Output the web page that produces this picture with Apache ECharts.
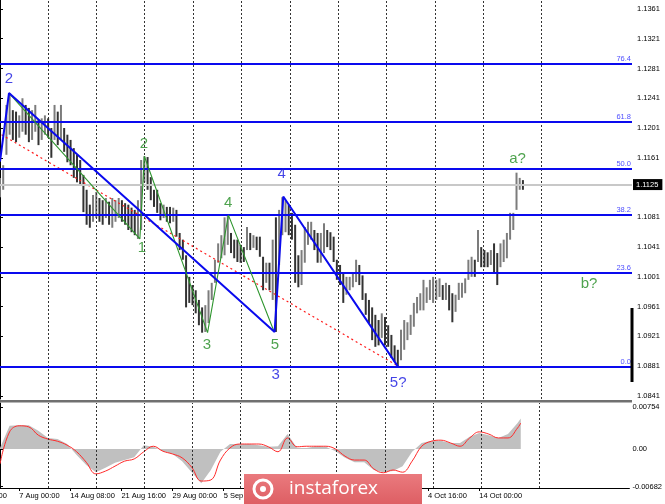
<!DOCTYPE html>
<html><head><meta charset="utf-8">
<script src="https://cdn.jsdelivr.net/npm/echarts@6/dist/echarts.min.js"></script>
<style>html,body{margin:0;padding:0;background:#fff}#c{width:665px;height:504px}</style>
</head><body><div id="c"></div>
<script>
// ---- price bars (8h bars): highs and lows ----
const highs = [1.1134,1.1151,1.1232,1.1248,1.1225,1.1223,1.1218,1.1241,1.1232,1.1228,
1.1225,1.1232,1.1212,1.1214,1.1218,1.1214,1.1201,1.1232,1.1223,1.1232,
1.1201,1.1192,1.1185,1.1174,1.1165,1.1158,1.1138,1.1118,1.1098,1.1111,
1.1115,1.1107,1.1104,1.1107,1.1102,1.1107,1.1104,1.1107,1.1104,1.1100,
1.1098,1.1094,1.1091,1.1104,1.1158,1.1163,1.1162,1.1135,1.1118,1.1118,
1.1100,1.1098,1.1095,1.1095,1.1094,1.1091,1.1060,1.1051,1.1030,1.1001,
1.0990,1.0983,1.0970,1.0960,1.0963,1.0983,1.0993,1.1024,1.1046,1.1057,
1.1081,1.1084,1.1060,1.1051,1.1051,1.1044,1.1041,1.1068,1.1060,1.1057,
1.1055,1.1055,1.1028,1.1020,1.1020,1.1051,1.1081,1.1091,1.1108,1.1104,
1.1098,1.1087,1.1071,1.1030,1.1037,1.1068,1.1075,1.1075,1.1064,1.1060,
1.1060,1.1073,1.1064,1.1061,1.1055,1.1024,1.1017,1.1006,1.1001,1.1001,
1.1006,1.1024,1.1017,1.1003,1.0979,1.0970,1.0960,1.0950,1.0943,1.0952,
1.0947,1.0936,1.0923,1.0909,1.0903,1.0930,1.0943,1.0940,1.0950,1.0966,
1.0974,1.0979,1.0997,1.0987,1.0997,1.1001,1.0997,1.0999,1.0990,1.0993,
1.0990,1.0979,1.0977,1.0993,1.0993,1.0999,1.1024,1.1028,1.1024,1.1064,
1.1041,1.1037,1.1034,1.1037,1.1046,1.1033,1.1046,1.1051,1.1060,1.1087,
1.1087,1.1141,1.1134,1.1131];
const lows = [1.1108,1.1118,1.1165,1.1192,1.1185,1.1182,1.1188,1.1196,1.1192,1.1182,
1.1185,1.1196,1.1178,1.1185,1.1192,1.1188,1.1161,1.1185,1.1178,1.1185,
1.1169,1.1155,1.1151,1.1134,1.1128,1.1124,1.1088,1.1071,1.1067,1.1075,
1.1080,1.1075,1.1071,1.1080,1.1071,1.1067,1.1075,1.1080,1.1075,1.1071,
1.1064,1.1061,1.1057,1.1052,1.1064,1.1128,1.1118,1.1104,1.1095,1.1087,
1.1077,1.1080,1.1075,1.1073,1.1075,1.1055,1.1037,1.1024,1.0960,1.0966,
1.0963,1.0952,1.0936,1.0926,1.0927,1.0939,1.0970,1.0993,1.1020,1.1026,
1.1030,1.1044,1.1033,1.1026,1.1021,1.1020,1.1021,1.1037,1.1037,1.1040,
1.1037,1.1028,1.0983,1.0993,1.0983,1.0970,1.0927,1.1017,1.1057,1.1061,
1.1057,1.1051,1.0993,1.0987,1.0990,1.1020,1.1044,1.1051,1.1037,1.1020,
1.1020,1.1033,1.1041,1.1037,1.1021,1.0997,1.0990,1.0966,1.0977,1.0983,
1.0987,1.0994,1.0990,1.0970,1.0950,1.0939,1.0916,1.0907,1.0909,1.0919,
1.0909,1.0907,1.0892,1.0887,1.0880,1.0889,1.0903,1.0916,1.0923,1.0934,
1.0952,1.0956,1.0956,1.0966,1.0970,1.0966,1.0970,1.0974,1.0970,1.0970,
1.0956,1.0940,1.0954,1.0970,1.0973,1.0979,1.0997,1.1001,1.1001,1.1021,
1.1014,1.1014,1.1014,1.1017,1.1006,1.0990,1.1014,1.1021,1.1026,1.1051,
1.1064,1.1091,1.1118,1.1118];
const lastPrice = 1.1125;
const totalBars = 197;

// ---- axis ticks ----
const priceTicks = [1.0841,1.0881,1.0921,1.0961,1.1001,1.1041,1.1081,1.1161,1.1201,1.1241,1.1281,1.1321,1.1361];
const timeLabels = ['7 Aug 00:00','14 Aug 08:00','21 Aug 16:00','29 Aug 00:00','5 Sep 08:00','12 Sep 16:00','20 Sep 00:00','27 Sep 08:00','4 Oct 16:00','14 Oct 00:00'];
const timeLabelBars = [6,22,38,54,70,86,102,118,134,150];
const gridBars = [14.96,30.08,45.04,60.16,75.12,90.4,105.36,120.54,135.59,150.65,168.85];

// ---- Fibonacci levels ----
const fibNames = ['0.0','23.6','38.2','50.0','61.8','76.4'];
const fibPrices = [1.0880,1.1006,1.1084,1.1146,1.1209,1.1287];

// ---- wave markup ----
const blueWave = [[0,1.1156],[2.8,1.1248],[85.6,1.0927],[88.3,1.1109],[124.1,1.0880]];
const greenWave = [[2.8,1.1248],[43.6,1.1052],[45.0,1.1163],[64.7,1.0926],[71.2,1.1084],[85.3,1.0929]];
const redTrend = [[0.5,1.1192],[124.1,1.0881]];
const blueLabels = [[2.8,1.1267,'2'],[85.9,1.0870,'3'],[87.8,1.1139,'4'],[124.1,1.0858,'5?']];
const greenLabels = [[44.2,1.1040,'1'],[44.9,1.1180,'2'],[64.5,1.0909,'3'],[71.1,1.1100,'4'],[85.7,1.0909,'5'],[161.3,1.1159,'a?'],[183.6,1.0991,'b?']];

// ---- MACD (sampled every 3 bars, last at final bar) ----
const macdHist = [0.0002,0.0042,0.0043,0.0043,0.0033,0.0020,0.0018,0.0009,-0.0011,-0.0029,
-0.0042,-0.0034,-0.0025,-0.0020,-0.0015,0.0007,0.0004,-0.0004,-0.0009,-0.0022,
-0.0042,-0.0062,-0.0038,-0.0005,0.0009,0.0009,0.0009,0.0007,0.0004,0.0005,
0.0027,0.0002,0.0002,0.0005,0.0004,-0.0004,-0.0016,-0.0024,-0.0024,-0.0038,
-0.0042,-0.0040,-0.0031,-0.0005,0.0011,0.0015,0.0015,0.0011,0.0011,0.0022,
0.0029,0.0025,0.0020,0.0027,0.0047,0.0055];
const macdSignal = [-0.0027,0.0031,0.0042,0.0040,0.0025,0.0018,0.0014,0.0007,-0.0005,-0.0024,
-0.0045,-0.0040,-0.0031,-0.0022,-0.0018,-0.0005,0.0005,-0.0004,-0.0009,-0.0016,
-0.0033,-0.0058,-0.0056,-0.0020,0.0002,0.0009,0.0009,0.0009,0.0004,-0.0005,
0.0020,0.0004,0.0005,0.0005,0.0005,0.0000,-0.0013,-0.0020,-0.0020,-0.0036,
-0.0043,-0.0038,-0.0042,-0.0022,0.0005,0.0014,0.0016,0.0011,0.0005,0.0020,
0.0031,0.0027,0.0020,0.0020,0.0038,0.0047];
const macdStep = 3;
const macdTicks = [-0.00682, 0, 0.00754];

const FONT = '"Liberation Sans", Arial, sans-serif';
const lastBar = highs.length - 1;
const macdX = k => Math.min(k * macdStep, lastBar);

const chart = echarts.init(document.getElementById('c'), null, {renderer: 'canvas'});
const dotted = {color: '#333', width: 1, type: [2, 2]};

const option = {
  animation: false,
  backgroundColor: '#fff',
  grid: [
    {left: 0, top: 0, width: 632, height: 399, containLabel: false},
    {left: 0, top: 403, width: 632, height: 85, containLabel: false}
  ],
  xAxis: [
    {type: 'value', gridIndex: 0, min: 0, max: totalBars, show: false},
    {type: 'value', gridIndex: 1, min: 0, max: totalBars, position: 'bottom',
     axisLine: {show: true, onZero: false, lineStyle: {color: '#000', width: 1}},
     axisTick: {show: true, customValues: timeLabelBars, length: 3, lineStyle: {color: '#000'}},
     axisLabel: {show: true, customValues: timeLabelBars, align: 'left', margin: 4,
       fontSize: 7.5, fontFamily: FONT, color: '#000',
       formatter: v => timeLabels[timeLabelBars.indexOf(v)] || ''},
     splitLine: {show: false}}
  ],
  yAxis: [
    {type: 'value', gridIndex: 0, position: 'right', min: 1.08369, max: 1.1373,
     axisLine: {show: true, lineStyle: {color: '#000', width: 1}},
     axisTick: {show: true, customValues: priceTicks, length: 3, lineStyle: {color: '#000'}},
     axisLabel: {show: true, customValues: priceTicks, margin: 5, fontSize: 7.5, fontFamily: FONT, color: '#000',
       formatter: v => v.toFixed(4)},
     splitLine: {show: false}},
    {type: 'value', gridIndex: 1, position: 'right', min: -0.007059, max: 0.008326,
     axisLine: {show: true, lineStyle: {color: '#000', width: 1}},
     axisTick: {show: true, customValues: macdTicks, length: 3, lineStyle: {color: '#000'}},
     axisLabel: {show: true, customValues: macdTicks, margin: 3, fontSize: 7.5, fontFamily: FONT, color: '#000',
       formatter: v => v === 0 ? '0.00' : v.toFixed(5)},
     splitLine: {show: false}}
  ],
  series: [
    // vertical grid lines + current price line (main)
    {type: 'line', xAxisIndex: 0, yAxisIndex: 0, data: [], z: 1, silent: true,
     markLine: {silent: true, symbol: ['none', 'none'], animation: false, precision: 6,
       data: gridBars.map(b => ({xAxis: b, lineStyle: dotted, label: {show: false}})).concat([
         {yAxis: lastPrice, lineStyle: {color: '#c8c8c8', width: 2, type: 'solid'},
          label: {show: true, position: 'end', distance: 1, formatter: lastPrice.toFixed(4),
            backgroundColor: '#000', color: '#fff', padding: [2, 4, 1, 3], fontSize: 7.5, fontFamily: FONT}}
       ])}},
    // price bars
    {type: 'custom', xAxisIndex: 0, yAxisIndex: 0, z: 2, clip: true,
     data: highs.map((h, i) => [i, h, lows[i]]),
     encode: {x: 0, y: [1, 2]},
     renderItem: function (params, api) {
       const i = api.value(0);
       const p1 = api.coord([i, api.value(1)]);
       const p2 = api.coord([i, api.value(2)]);
       const up = i === 0 || (api.value(1) + api.value(2)) >= (highs[i - 1] + lows[i - 1]);
       return {type: 'line', shape: {x1: p1[0], y1: p1[1], x2: p2[0], y2: p2[1]},
         style: {stroke: up ? '#7c7c7c' : '#333333', lineWidth: 2}};
     }},
    // Fibonacci lines
    {type: 'line', xAxisIndex: 0, yAxisIndex: 0, data: [], z: 3, silent: true,
     markLine: {silent: true, symbol: ['none', 'none'], animation: false, precision: 6,
       lineStyle: {color: '#0a0aee', width: 2, type: 'solid'},
       label: {show: true, position: 'insideEndTop', distance: 1, color: '#5050ff', fontSize: 7.5, fontFamily: FONT,
         formatter: p => p.name},
       data: fibPrices.map((p, k) => ({yAxis: p, name: fibNames[k]}))}},
    // red dashed trend
    {type: 'line', xAxisIndex: 0, yAxisIndex: 0, z: 4, data: redTrend, showSymbol: false, silent: true,
     lineStyle: {color: '#ff1a1a', width: 1.2, type: [2, 3]}},
    // green wave
    {type: 'line', xAxisIndex: 0, yAxisIndex: 0, z: 5, data: greenWave, showSymbol: false, silent: true,
     lineStyle: {color: '#2f962f', width: 1.1}},
    // blue wave
    {type: 'line', xAxisIndex: 0, yAxisIndex: 0, z: 6, data: blueWave, showSymbol: false, silent: true,
     lineStyle: {color: '#0a0aee', width: 2}},
    // wave labels
    {type: 'scatter', xAxisIndex: 0, yAxisIndex: 0, z: 7, data: blueLabels, symbolSize: 0, silent: true, clip: false,
     label: {show: true, position: 'inside', formatter: p => p.value[2], color: '#1414e0', fontSize: 15, fontFamily: FONT}},
    {type: 'scatter', xAxisIndex: 0, yAxisIndex: 0, z: 7, data: greenLabels, symbolSize: 0, silent: true, clip: false,
     label: {show: true, position: 'inside', formatter: p => p.value[2], color: '#238c23', fontSize: 15, fontFamily: FONT}},
    // MACD grid lines
    {type: 'line', xAxisIndex: 1, yAxisIndex: 1, data: [], z: 1, silent: true,
     markLine: {silent: true, symbol: ['none', 'none'], animation: false,
       data: gridBars.map(b => ({xAxis: b, lineStyle: dotted, label: {show: false}}))}},
    // MACD histogram
    {type: 'line', xAxisIndex: 1, yAxisIndex: 1, z: 2, silent: true, showSymbol: false,
     data: macdHist.map((v, k) => [macdX(k), v]),
     lineStyle: {width: 0}, areaStyle: {color: '#c0c0c0', opacity: 1, origin: 0}},
    // MACD signal
    {type: 'line', xAxisIndex: 1, yAxisIndex: 1, z: 3, silent: true, showSymbol: false, smooth: 0.4,
     data: macdSignal.map((v, k) => [macdX(k), v]),
     lineStyle: {color: '#ff2a2a', width: 1}}
  ],
  graphic: [
    {type: 'rect', z: 50, shape: {x: 0, y: 400, width: 632, height: 2.5}, style: {fill: '#707070'}, silent: true},
    {type: 'rect', z: 50, shape: {x: 630.5, y: 308, width: 3, height: 74}, style: {fill: '#000'}, silent: true},
    {type: 'text', z: 50, style: {x: -34, y: 496, text: '31 Jul 16:00', fill: '#000', font: '7.5px ' + FONT, verticalAlign: 'middle'}, silent: true},
    {type: 'rect', z: 60, shape: {x: 244, y: 474, width: 178, height: 32},
     style: {fill: new echarts.graphic.LinearGradient(0, 0, 0, 1, [{offset: 0, color: '#ea7a7e'}, {offset: 1, color: '#dd5d62'}])}, silent: true},
    {type: 'circle', z: 61, shape: {cx: 263, cy: 489, r: 9}, style: {fill: 'none', stroke: '#fff', lineWidth: 3}, silent: true},
    {type: 'circle', z: 61, shape: {cx: 263, cy: 489, r: 3}, style: {fill: '#fff'}, silent: true},
    {type: 'text', z: 61, style: {x: 289, y: 489, text: 'instaforex', fill: '#fff', font: '19px "Open Sans", sans-serif', verticalAlign: 'middle'}, silent: true}
  ]
};
chart.setOption(option);
</script>
</body></html>
